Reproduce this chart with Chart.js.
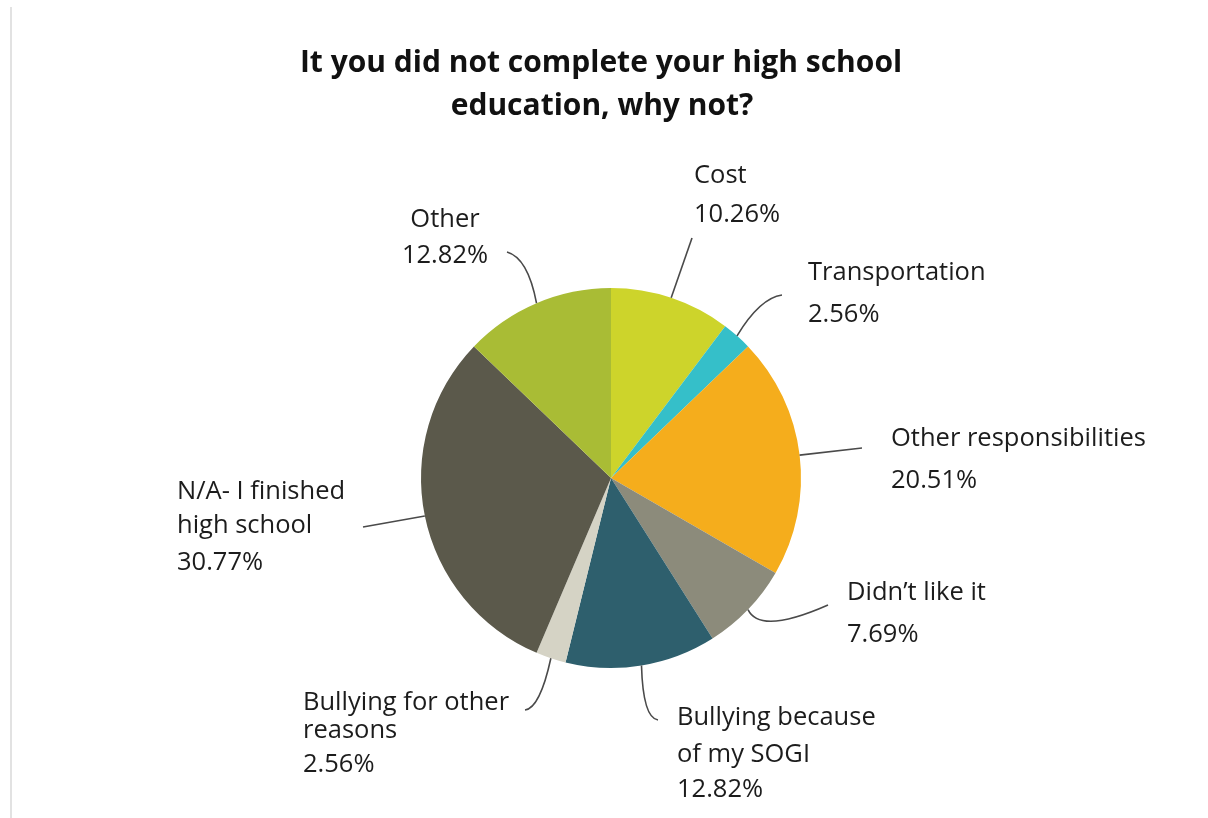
<!DOCTYPE html>
<html>
<head>
<meta charset="utf-8">
<script src="https://cdn.jsdelivr.net/npm/chart.js@4.4.1/dist/chart.umd.min.js"></script>
<style>
  body { margin: 0; background: #fff; }
  #wrap { position: relative; width: 1208px; height: 818px; }
  #edge { position: absolute; left: 10px; top: 7px; width: 2px; height: 811px; background: #e2e2e2; }
</style>
</head>
<body>
<div id="wrap">
  <div id="edge"></div>
  <canvas id="pie" width="1208" height="818"></canvas>
</div>
<script>
// data
const categories = ['Cost', 'Transportation', 'Other responsibilities', "Didn’t like it",
  'Bullying because of my SOGI', 'Bullying for other reasons', 'N/A- I finished high school', 'Other'];
const labelLines = [['Cost'], ['Transportation'], ['Other responsibilities'], ['Didn’t like it'],
  ['Bullying because', 'of my SOGI'], ['Bullying for other', 'reasons'], ['N/A- I finished', 'high school'], ['Other']];
const values = [10.26, 2.56, 20.51, 7.69, 12.82, 2.56, 30.77, 12.82];
const colors = ['#cdd42b', '#35bfc9', '#f5ad1c', '#8c8b7b', '#2e5f6d', '#d5d3c5', '#5b594b', '#a9bc35'];
const titleLines = ['It you did not complete your high school', 'education, why not?'];

// label placement, offsets from the pie centre
// x, baselines for each line (last one is the percent), leader end, optional curve control
const labelPos = [
  { x: 83, align: 'left', ys: [-295, -256], end: [81, -240] },
  { x: 197, align: 'left', ys: [-198, -156], end: [171, -183], ctrl: [149, -180] },
  { x: 280, align: 'left', ys: [-32, 10], end: [251, -30] },
  { x: 236, align: 'left', ys: [122, 164], end: [217, 127], ctrl: [149, 157] },
  { x: 66, align: 'left', ys: [247, 284, 319], end: [47, 242], ctrl: [32, 240] },
  { x: -308, align: 'left', ys: [232, 260, 294], end: [-86, 232], ctrl: [-71, 230] },
  { x: -434, align: 'left', ys: [21, 55, 92], end: [-248, 49] },
  { x: -166, align: 'center', ys: [-251, -215], end: [-104, -226], ctrl: [-83, -220] }
];

const calloutPlugin = {
  id: 'callouts',
  afterDatasetsDraw(chart) {
    const ctx = chart.ctx;
    const arcs = chart.getDatasetMeta(0).data;
    ctx.save();
    arcs.forEach((arc, i) => {
      const p = arc.getProps(['x', 'y', 'startAngle', 'endAngle', 'outerRadius'], true);
      const mid = (p.startAngle + p.endAngle) / 2;
      const sx = p.x + Math.cos(mid) * p.outerRadius;
      const sy = p.y + Math.sin(mid) * p.outerRadius;
      const lp = labelPos[i];

      ctx.strokeStyle = '#4a4a4a';
      ctx.lineWidth = 1.6;
      ctx.beginPath();
      ctx.moveTo(sx, sy);
      if (lp.ctrl) {
        ctx.quadraticCurveTo(p.x + lp.ctrl[0], p.y + lp.ctrl[1], p.x + lp.end[0], p.y + lp.end[1]);
      } else {
        ctx.lineTo(p.x + lp.end[0], p.y + lp.end[1]);
      }
      ctx.stroke();

      ctx.fillStyle = '#1c1c1c';
      ctx.font = '25.5px "Open Sans"';
      ctx.textAlign = lp.align;
      ctx.textBaseline = 'alphabetic';
      const lines = labelLines[i].concat([values[i].toFixed(2) + '%']);
      lines.forEach((t, k) => ctx.fillText(t, p.x + lp.x, p.y + lp.ys[k]));
    });

    // title
    ctx.fillStyle = '#111';
    ctx.font = 'bold 30px "Open Sans"';
    ctx.textAlign = 'center';
    ctx.fillText(titleLines[0], 601, 72);
    ctx.fillText(titleLines[1], 602, 115);
    ctx.restore();
  }
};

new Chart(document.getElementById('pie'), {
  type: 'pie',
  data: {
    labels: categories,
    datasets: [{
      data: values,
      backgroundColor: colors,
      borderWidth: 0,
      hoverOffset: 0
    }]
  },
  options: {
    responsive: false,
    animation: false,
    layout: { padding: { left: 421, right: 407, top: 288, bottom: 150 } },
    plugins: {
      legend: { display: false },
      tooltip: { enabled: false }
    }
  },
  plugins: [calloutPlugin]
});
</script>
</body>
</html>
